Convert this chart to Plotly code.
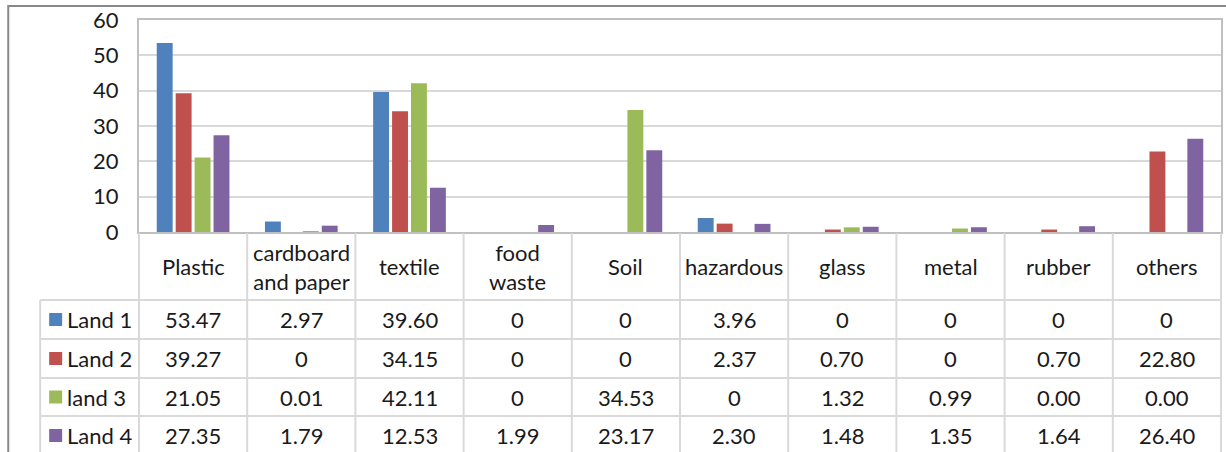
import plotly.graph_objects as go

categories = ["Plastic", "cardboard<br>and paper", "textile", "food<br>waste", "Soil",
              "hazardous", "glass", "metal", "rubber", "others"]
series_names = ["Land 1", "Land 2", "land 3", "Land 4"]
land1 = [53.47, 2.97, 39.60, 0, 0, 3.96, 0, 0, 0, 0]
land2 = [39.27, 0, 34.15, 0, 0, 2.37, 0.70, 0, 0.70, 22.80]
land3 = [21.05, 0.01, 42.11, 0, 34.53, 0, 1.32, 0.99, 0.00, 0.00]
land4 = [27.35, 1.79, 12.53, 1.99, 23.17, 2.30, 1.48, 1.35, 1.64, 26.40]
land1_text = ["53.47", "2.97", "39.60", "0", "0", "3.96", "0", "0", "0", "0"]
land2_text = ["39.27", "0", "34.15", "0", "0", "2.37", "0.70", "0", "0.70", "22.80"]
land3_text = ["21.05", "0.01", "42.11", "0", "34.53", "0", "1.32", "0.99", "0.00", "0.00"]
land4_text = ["27.35", "1.79", "12.53", "1.99", "23.17", "2.30", "1.48", "1.35", "1.64", "26.40"]
y_ticks = [0, 10, 20, 30, 40, 50, 60]

colors = ["#4F81BD", "#C0504D", "#9BBB59", "#8064A2"]
all_values = [land1, land2, land3, land4]
all_texts = [land1_text, land2_text, land3_text, land4_text]

W, H = 1226, 452
ML, MR, MT, MB = 139, 3, 20, 220
PW = W - ML - MR
PH = H - MT - MB
FONT = "Lato"
FS = 22
TXT = "#1a1a1a"
GRID = "#D9D9D9"


def px_x(px):
    return (px - ML) / PW


def px_y(py):
    return (H - MB - py) / PH


fig = go.Figure()
xs = list(range(len(categories)))
for name, vals, col in zip(series_names, all_values, colors):
    fig.add_trace(go.Bar(x=xs, y=vals, name=name, marker=dict(color=col, line=dict(width=0))))

shapes = []
annotations = []

header_top, header_bot = 233, 300
row_lines = [300, 339, 378, 416, 455]
legend_left = 40

for ry in row_lines[:-1]:
    shapes.append(dict(type="line", xref="paper", yref="paper",
                       x0=px_x(legend_left), x1=1.0, y0=px_y(ry), y1=px_y(ry),
                       line=dict(color=GRID, width=2), layer="above"))
for i in range(1, len(categories)):
    shapes.append(dict(type="line", xref="x", yref="paper",
                       x0=i - 0.5, x1=i - 0.5, y0=px_y(header_top), y1=px_y(H + 5),
                       line=dict(color=GRID, width=2), layer="above"))
shapes.append(dict(type="line", xref="paper", yref="paper", x0=0, x1=0,
                   y0=px_y(header_top), y1=px_y(H + 5), line=dict(color=GRID, width=2)))
shapes.append(dict(type="line", xref="paper", yref="paper", x0=px_x(legend_left), x1=px_x(legend_left),
                   y0=px_y(header_bot), y1=px_y(H + 5), line=dict(color=GRID, width=2)))
shapes.append(dict(type="line", xref="paper", yref="paper", x0=1, x1=1,
                   y0=px_y(header_top), y1=px_y(H + 5), line=dict(color=GRID, width=2)))
# outer chart border
shapes.append(dict(type="rect", xref="paper", yref="paper",
                   x0=px_x(8), x1=px_x(1240), y0=px_y(6), y1=px_y(470),
                   line=dict(color="#888888", width=2), fillcolor="rgba(0,0,0,0)"))

for i, c in enumerate(categories):
    annotations.append(dict(x=i, y=px_y((header_top + header_bot) / 2), xref="x", yref="paper",
                            text=c, showarrow=False, xanchor="center", yanchor="middle",
                            font=dict(family=FONT, size=FS, color=TXT)))

for r, (name, texts, col) in enumerate(zip(series_names, all_texts, colors)):
    cy = (row_lines[r] + row_lines[r + 1]) / 2
    for i, t in enumerate(texts):
        annotations.append(dict(x=i, y=px_y(cy), xref="x", yref="paper", text=t,
                                showarrow=False, xanchor="center", yanchor="middle",
                                font=dict(family=FONT, size=FS, color=TXT)))
    shapes.append(dict(type="rect", xref="paper", yref="paper",
                       x0=px_x(49), x1=px_x(62), y0=px_y(cy - 6.5), y1=px_y(cy + 6.5),
                       fillcolor=col, line=dict(width=0)))
    annotations.append(dict(x=px_x(65), y=px_y(cy), xref="paper", yref="paper", text=name,
                            showarrow=False, xanchor="left", yanchor="middle",
                            font=dict(family=FONT, size=FS, color=TXT)))

fig.update_layout(
    width=W, height=H,
    margin=dict(l=ML, r=MR, t=MT, b=MB),
    paper_bgcolor="white", plot_bgcolor="white",
    barmode="group", bargap=0.3, bargroupgap=0.16,
    showlegend=False,
    shapes=shapes, annotations=annotations,
    xaxis=dict(range=[-0.5, len(categories) - 0.5], showticklabels=False, ticks="",
               showgrid=False, zeroline=False, showline=True, mirror=True,
               linecolor="#BFBFBF", linewidth=2),
    yaxis=dict(range=[0, 60], tickvals=y_ticks, ticks="", showgrid=True, gridcolor=GRID,
               gridwidth=2, zeroline=False, showline=True, mirror=True,
               linecolor="#BFBFBF", linewidth=2, ticklabelstandoff=14,
               tickfont=dict(family=FONT, size=FS, color=TXT)),
)

fig.write_html("out.html", config={"displayModeBar": False},
               post_script="document.body.style.margin='0';document.body.style.overflow='hidden';")
